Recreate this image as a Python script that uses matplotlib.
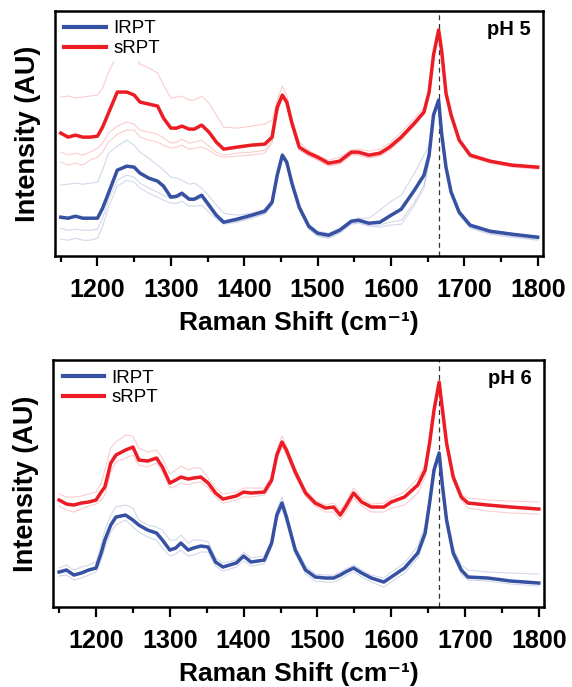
import matplotlib
matplotlib.use("Agg")
import matplotlib.pyplot as plt
from matplotlib.ticker import MultipleLocator

plt.rcParams['font.family'] = ['Liberation Sans', 'DejaVu Sans']

# ---------------- data: pH 5 panel ----------------
x_ph5 = [1150, 1160, 1170, 1180, 1190, 1200, 1207, 1215, 1227, 1240, 1250, 1258, 1270, 1282,
         1290, 1300, 1308, 1315, 1325, 1332, 1342, 1352, 1362, 1372, 1390, 1410, 1428, 1438,
         1445, 1452, 1458, 1465, 1475, 1488, 1500, 1515, 1530, 1546, 1556, 1570, 1585, 1598,
         1614, 1632, 1645, 1652, 1658, 1665, 1669, 1675, 1682, 1693, 1708, 1735, 1765, 1800]

srpt_ph5_mean = [127, 123, 125, 123, 123, 124, 133, 147, 168, 168, 165, 158, 156, 154, 142, 132,
                 132, 134, 131, 131, 135, 128, 118, 111, 113, 115, 116, 123, 153, 165, 158, 137,
                 113, 107, 103, 97, 99, 108, 108, 105, 107, 113, 123, 137, 148, 168, 205, 230,
                 210, 167, 145, 120, 105, 99, 95, 93]
srpt_ph5_rep1 = [163, 164, 162, 163, 164, 165, 172, 188, 205, 208, 205, 196, 192, 187, 175, 162,
                 163, 164, 160, 160, 164, 157, 145, 133, 132, 134, 136, 140, 160, 174, 165, 142,
                 118, 110, 105, 100, 103, 110, 111, 109, 111, 117, 128, 142, 152, 170, 205, 229,
                 210, 167, 146, 121, 106, 100, 96, 94]
srpt_ph5_rep2 = [108, 105, 107, 105, 108, 112, 117, 127, 134, 138, 136, 130, 128, 126, 122, 117,
                 118, 121, 117, 118, 120, 114, 108, 105, 107, 108, 110, 120, 148, 163, 156, 135,
                 111, 105, 101, 95, 97, 106, 106, 103, 105, 111, 121, 135, 147, 167, 204, 229,
                 209, 166, 144, 119, 104, 98, 94, 92]
srpt_ph5_rep3 = [98, 95, 97, 95, 100, 103, 108, 118, 126, 130, 130, 123, 120, 118, 115, 112,
                 113, 115, 111, 112, 113, 110, 105, 103, 104, 105, 107, 117, 146, 162, 155, 134,
                 110, 104, 100, 94, 96, 105, 105, 102, 104, 110, 120, 134, 146, 166, 203, 228,
                 208, 165, 143, 118, 103, 97, 93, 91]

lrpt_ph5_mean = [43, 42, 44, 42, 42, 42, 52, 67, 90, 94, 93, 87, 82, 79, 74, 63,
                 64, 67, 61, 61, 65, 55, 45, 38, 41, 45, 49, 58, 85, 105, 98, 77,
                 53, 34, 27, 25, 30, 39, 40, 37, 38, 44, 51, 70, 85, 105, 145, 160,
                 127, 93, 68, 48, 35, 29, 26, 23]
lrpt_ph5_rep1 = [75, 76, 77, 76, 77, 78, 90, 107, 114, 120, 115, 108, 102, 95, 90, 83,
                 82, 80, 76, 77, 72, 64, 55, 47, 45, 47, 51, 60, 86, 106, 99, 78,
                 54, 36, 29, 27, 32, 40, 42, 42, 50, 58, 65, 87, 105, 115, 148, 161,
                 128, 94, 69, 49, 36, 30, 27, 24]
lrpt_ph5_rep2 = [32, 30, 31, 30, 30, 31, 42, 60, 80, 85, 83, 77, 72, 68, 65, 62,
                 62, 64, 60, 60, 62, 52, 43, 37, 39, 43, 47, 56, 83, 103, 96, 75,
                 51, 32, 25, 23, 28, 37, 38, 35, 35, 38, 40, 58, 75, 100, 142, 159,
                 125, 91, 66, 46, 33, 27, 24, 21]
lrpt_ph5_rep3 = [21, 20, 22, 20, 20, 22, 34, 53, 74, 80, 78, 72, 67, 63, 60, 57,
                 57, 59, 54, 54, 55, 48, 41, 36, 38, 42, 46, 55, 82, 102, 95, 74,
                 50, 31, 24, 22, 27, 36, 37, 34, 33, 35, 36, 55, 72, 98, 141, 158,
                 124, 90, 65, 45, 32, 26, 23, 20]

# ---------------- data: pH 6 panel ----------------
x_ph6 = [1150, 1160, 1170, 1180, 1190, 1200, 1207, 1212, 1220, 1227, 1240, 1250, 1258, 1270,
         1282, 1290, 1300, 1308, 1315, 1325, 1332, 1342, 1352, 1362, 1372, 1390, 1400, 1410,
         1428, 1438, 1445, 1452, 1458, 1470, 1484, 1497, 1511, 1522, 1531, 1538, 1549, 1560,
         1573, 1590, 1600, 1618, 1636, 1646, 1652, 1658, 1665, 1669, 1675, 1684, 1695, 1704,
         1731, 1762, 1800]

srpt_ph6_mean = [110, 106, 105, 107, 108, 110, 118, 123, 147, 155, 160, 163, 150, 149, 152, 143,
                 127, 130, 133, 131, 132, 133, 127, 117, 111, 114, 118, 117, 118, 130, 155, 168,
                 160, 138, 117, 107, 102, 103, 95, 103, 117, 108, 103, 103, 108, 113, 125, 140,
                 167, 200, 228, 203, 167, 133, 113, 107, 105, 103, 101]
srpt_ph6_rep1 = [116, 113, 113, 114, 116, 118, 127, 140, 162, 168, 175, 174, 162, 158, 160, 152,
                 136, 140, 144, 140, 142, 142, 132, 122, 116, 118, 122, 122, 122, 134, 160, 174,
                 164, 142, 120, 110, 105, 107, 100, 107, 122, 112, 106, 107, 112, 118, 132, 145,
                 170, 202, 229, 205, 170, 137, 116, 112, 110, 109, 108]
srpt_ph6_rep2 = [104, 100, 98, 101, 104, 106, 110, 115, 138, 148, 152, 155, 145, 143, 147, 138,
                 122, 124, 127, 125, 127, 128, 122, 113, 107, 110, 113, 113, 115, 126, 150, 163,
                 155, 134, 114, 104, 98, 98, 90, 97, 112, 104, 98, 98, 102, 105, 117, 133,
                 162, 197, 226, 200, 164, 130, 110, 102, 99, 97, 96]

lrpt_ph6_mean = [38, 40, 35, 37, 40, 42, 57, 70, 85, 93, 95, 90, 85, 80, 77, 70,
                 60, 62, 67, 60, 62, 64, 63, 48, 43, 47, 54, 48, 50, 67, 95, 107,
                 93, 60, 40, 33, 32, 32, 35, 38, 42, 37, 32, 28, 33, 42, 57, 77,
                 107, 140, 157, 127, 90, 57, 40, 33, 32, 29, 27]
lrpt_ph6_rep1 = [42, 45, 40, 43, 45, 48, 65, 80, 95, 103, 105, 102, 90, 85, 83, 80,
                 70, 70, 75, 67, 70, 70, 68, 52, 47, 50, 58, 52, 54, 70, 100, 113,
                 98, 64, 44, 36, 35, 35, 38, 41, 45, 40, 35, 32, 38, 47, 64, 85,
                 113, 145, 160, 132, 95, 62, 45, 40, 38, 37, 36]
lrpt_ph6_rep2 = [34, 35, 30, 32, 35, 38, 50, 62, 78, 85, 90, 83, 78, 73, 70, 62,
                 54, 56, 60, 54, 55, 58, 58, 44, 39, 43, 49, 44, 46, 63, 90, 102,
                 88, 56, 36, 29, 28, 28, 31, 34, 38, 33, 28, 23, 28, 37, 52, 72,
                 102, 136, 154, 123, 86, 53, 36, 30, 29, 26, 24]

series_labels = ['IRPT', 'sRPT']
panel_labels = ['pH 5', 'pH 6']
xticks = [1200, 1300, 1400, 1500, 1600, 1700, 1800]
amide_line = 1665

BLUE = '#3650a2'
RED = '#ec1c24'

fig = plt.figure(figsize=(5.72, 6.87), dpi=100)
ax1 = fig.add_axes([0.096, 0.627, 0.853, 0.357])
ax2 = fig.add_axes([0.093, 0.1164, 0.858, 0.3595])

panels = [
    (ax1, x_ph5, lrpt_ph5_mean, [lrpt_ph5_rep1, lrpt_ph5_rep2, lrpt_ph5_rep3],
     srpt_ph5_mean, [srpt_ph5_rep1, srpt_ph5_rep2, srpt_ph5_rep3], panel_labels[0], (4, 249)),
    (ax2, x_ph6, lrpt_ph6_mean, [lrpt_ph6_rep1, lrpt_ph6_rep2],
     srpt_ph6_mean, [srpt_ph6_rep1, srpt_ph6_rep2], panel_labels[1], (3, 250)),
]

for ax, xs, lmean, lreps, smean, sreps, plabel, ylim in panels:
    for r in lreps:
        ax.plot(xs, r, color=BLUE, alpha=0.22, lw=0.8, zorder=1)
    for r in sreps:
        ax.plot(xs, r, color=RED, alpha=0.22, lw=0.8, zorder=1)
    ax.plot(xs, lmean, color=BLUE, lw=2.5, label=series_labels[0], zorder=3)
    ax.plot(xs, smean, color=RED, lw=2.5, label=series_labels[1], zorder=3)
    ax.axvline(amide_line, color='#333333', lw=0.9, ls=(0, (4, 3)), zorder=2)
    ax.set_xlim(1142, 1807)
    ax.set_ylim(*ylim)
    ax.set_yticks([])
    ax.set_xticks(xticks)
    ax.xaxis.set_minor_locator(MultipleLocator(50))
    ax.tick_params(axis='x', which='major', direction='out', length=7, width=1.6,
                   labelsize=18, pad=9)
    ax.tick_params(axis='x', which='minor', direction='out', length=4.5, width=1.6)
    for lab in ax.get_xticklabels():
        lab.set_fontweight('bold')
    for sp in ax.spines.values():
        sp.set_linewidth(1.8)
    ax.set_xlabel('Raman Shift (cm\u207b\u00b9)', fontsize=19, fontweight='bold', labelpad=6)
    ax.set_ylabel('Intensity (AU)', fontsize=19.5, fontweight='bold', labelpad=10)
    ax.text(0.975, 0.925, plabel, transform=ax.transAxes, ha='right', va='center',
            fontsize=14.5, fontweight='bold')
    leg = ax.legend(loc='upper left', frameon=True, fontsize=13.5, handlelength=2.2,
                    handletextpad=0.4, borderpad=0.2, labelspacing=0.15,
                    borderaxespad=0.3, facecolor='white', edgecolor='none', framealpha=1)
    for line in leg.get_lines():
        line.set_linewidth(3)

fig.savefig('out.png', dpi=100)
